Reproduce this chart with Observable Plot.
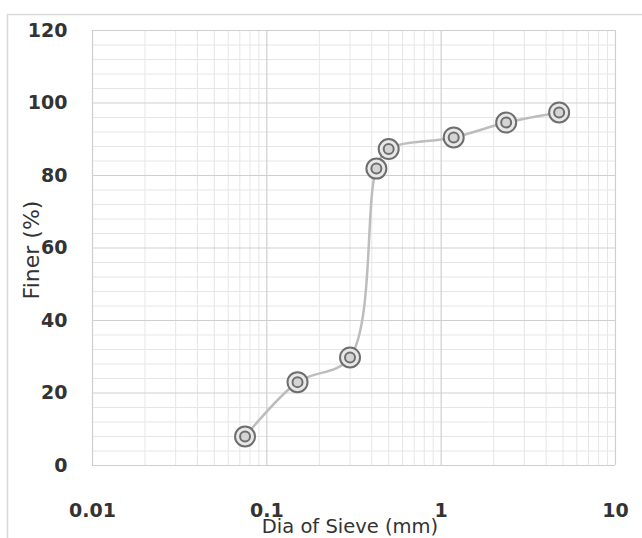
<!DOCTYPE html>
<html>
<head>
<meta charset="utf-8">
<script src="https://cdn.jsdelivr.net/npm/d3@7"></script>
<script src="https://cdn.jsdelivr.net/npm/@observablehq/plot@0.6"></script>
<style>
  html, body { margin: 0; padding: 0; background: #fff; }
  #chart { width: 642px; height: 538px; }
</style>
</head>
<body>
<div id="chart"></div>
<script>
// Data
const sieveSize = [0.075, 0.15, 0.3, 0.425, 0.5, 1.18, 2.36, 4.75];
const finer = [8.0, 23.0, 29.8, 81.9, 87.3, 90.5, 94.6, 97.4];
const xTicks = [0.01, 0.1, 1, 10];
const yTicks = [0, 20, 40, 60, 80, 100, 120];
const xTitle = "Dia of Sieve (mm)";
const yTitle = "Finer (%)";

const data = sieveSize.map((d, i) => ({x: d, y: finer[i]}));

// gridline positions derived from the tick arrays
const xMinor = xTicks.slice(0, -1).flatMap(t => d3.range(2, 10).map(k => k * t));
const yMinor = yTicks.slice(0, -1).flatMap(t => d3.range(1, 5).map(k => t + k * 4));

const chart = Plot.plot({
  width: 642,
  height: 538,
  marginLeft: 92,
  marginRight: 27,
  marginTop: 30,
  marginBottom: 73,
  style: {fontFamily: "'DejaVu Sans', sans-serif", color: "#3a3a3a", background: "transparent"},
  x: {type: "log", domain: [0.01, 10]},
  y: {domain: [0, 120]},
  marks: [
    Plot.ruleX(xMinor, {stroke: "#e6e6e6", strokeWidth: 1}),
    Plot.ruleY(yMinor, {stroke: "#e6e6e6", strokeWidth: 1}),
    Plot.ruleX(xTicks, {stroke: "#cfcfcf", strokeWidth: 1.2}),
    Plot.ruleY(yTicks, {stroke: "#cfcfcf", strokeWidth: 1.2}),
    Plot.axisX(xTicks, {tickSize: 0, tickPadding: 38, label: null, fontSize: 19, fontWeight: "bold", fill: "#333", tickFormat: d => String(d)}),
    Plot.axisY(yTicks, {tickSize: 0, tickPadding: 25, label: null, fontSize: 19, fontWeight: "bold", fill: "#333"}),
    Plot.text([xTitle], {frameAnchor: "bottom", textAnchor: "middle", lineAnchor: "middle", dx: -4, dy: 61, fontSize: 19.5, fill: "#333"}),
    Plot.text([yTitle], {frameAnchor: "left", textAnchor: "middle", lineAnchor: "middle", dx: -61, dy: 2, rotate: -90, fontSize: 22, fill: "#333"}),
    Plot.line(data, {x: "x", y: "y", curve: "catmull-rom", stroke: "#bdbdbd", strokeWidth: 2.5}),
    Plot.dot(data, {x: "x", y: "y", r: 10, stroke: "#6e6e6e", strokeWidth: 2, fill: "#e8e8e8"}),
    Plot.dot(data, {x: "x", y: "y", r: 5, stroke: "#6e6e6e", strokeWidth: 2, fill: "#d4d4d4"})
  ]
});

// outer chart-area frame
d3.select(chart).insert("rect", ":first-child")
  .attr("x", 7.5).attr("y", 14.5).attr("width", 660).attr("height", 540)
  .attr("fill", "none").attr("stroke", "#d9d9d9").attr("stroke-width", 1.5);

document.getElementById("chart").appendChild(chart);
</script>
</body>
</html>
